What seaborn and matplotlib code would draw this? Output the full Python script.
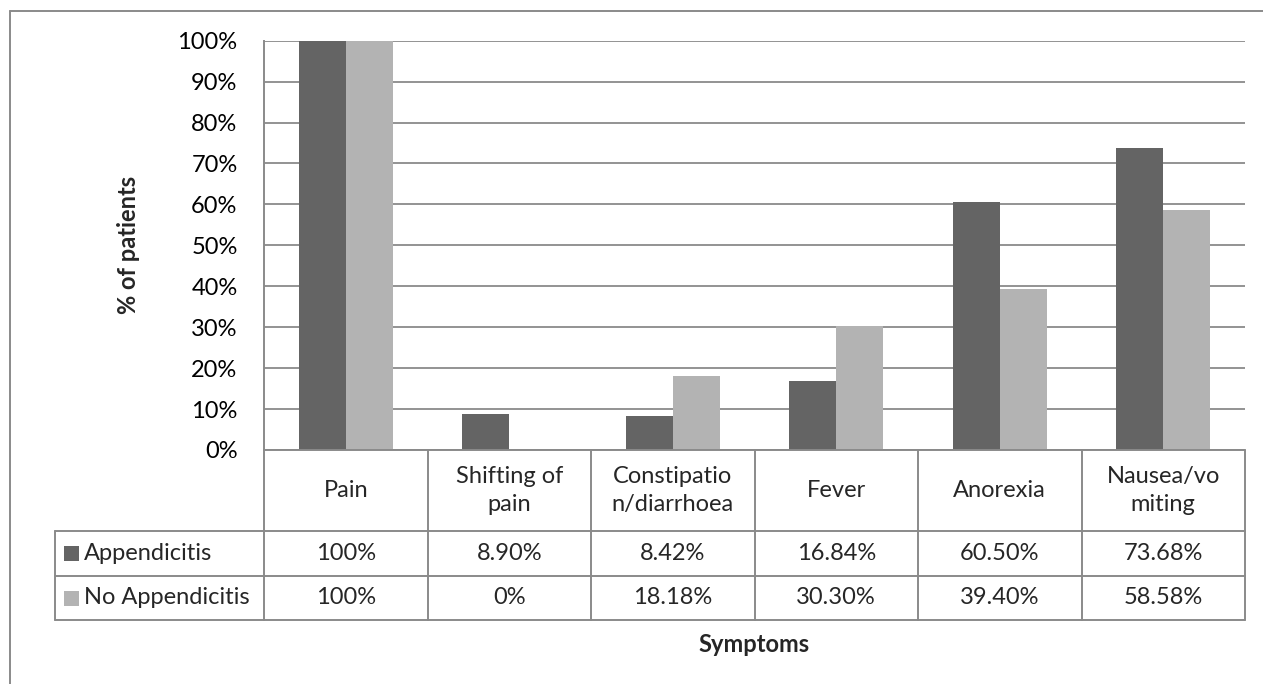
import matplotlib
matplotlib.use("Agg")
import matplotlib.pyplot as plt
from matplotlib.lines import Line2D
from matplotlib.patches import Rectangle
from matplotlib.ticker import FuncFormatter
import seaborn as sns
import pandas as pd

# ---------------- data ----------------
symptoms = ["Pain", "Shifting of pain", "Constipation/diarrhoea", "Fever", "Anorexia", "Nausea/vomiting"]
header_labels = ["Pain", "Shifting of\npain", "Constipatio\nn/diarrhoea", "Fever", "Anorexia", "Nausea/vo\nmiting"]
series_names = ["Appendicitis", "No Appendicitis"]
appendicitis = [100, 8.90, 8.42, 16.84, 60.50, 73.68]
no_appendicitis = [100, 0, 18.18, 30.30, 39.40, 58.58]
appendicitis_labels = ["100%", "8.90%", "8.42%", "16.84%", "60.50%", "73.68%"]
no_appendicitis_labels = ["100%", "0%", "18.18%", "30.30%", "39.40%", "58.58%"]
y_ticks = [0, 10, 20, 30, 40, 50, 60, 70, 80, 90, 100]

DARK = "#646464"
LIGHT = "#b3b3b3"
LINE = "#8a8a8a"

df = pd.DataFrame({
    "Symptom": symptoms * 2,
    "Group": [series_names[0]] * 6 + [series_names[1]] * 6,
    "Value": appendicitis + no_appendicitis,
})

W, H = 1263, 684
sns.set_theme(style="white")
plt.rcParams["font.family"] = ["Lato", "DejaVu Sans"]
FS = 17

fig = plt.figure(figsize=(W / 100, H / 100), dpi=100)
fig.patch.set_facecolor("white")

# plot area in pixels
PL, PR, PT, PB = 264, 1245, 40.7, 450
ax = fig.add_axes([PL / W, 1 - PB / H, (PR - PL) / W, (PB - PT) / H])

sns.barplot(data=df, x="Symptom", y="Value", hue="Group", order=symptoms,
            hue_order=series_names, palette=[DARK, LIGHT], width=0.575,
            saturation=1, legend=False, ax=ax, edgecolor="none", linewidth=0)

ax.set_ylim(0, 100)
ax.set_xlim(-0.5, len(symptoms) - 0.5)
ax.set_yticks(y_ticks)
ax.yaxis.set_major_formatter(FuncFormatter(lambda v, p: f"{v:.0f}%"))
ax.tick_params(axis="y", length=0, pad=19, labelsize=FS, labelcolor="black")
ax.set_xticks([])
ax.set_xlabel("")
ax.set_ylabel("")
ax.grid(axis="y", color=LINE, linewidth=1.3)
ax.set_axisbelow(True)
for s in ["top", "right", "bottom"]:
    ax.spines[s].set_visible(False)
ax.spines["left"].set_color(LINE)
ax.spines["left"].set_linewidth(1.4)

def fx(x):
    return x / W

def fy(y):
    return 1 - y / H

def hline(x0, x1, y):
    fig.add_artist(Line2D([fx(x0), fx(x1)], [fy(y), fy(y)], color=LINE, lw=1.4,
                          transform=fig.transFigure))

def vline(x, y0, y1):
    fig.add_artist(Line2D([fx(x), fx(x)], [fy(y0), fy(y1)], color=LINE, lw=1.4,
                          transform=fig.transFigure))

# outer chart frame
hline(9.5, W + 5, 11)
vline(9.5, 11, H + 5)

# data table
n = len(symptoms)
colw = (PR - PL) / n
TL = 55
R0, R1, R2, R3 = 450, 531, 576, 620
edges = [PL + i * colw for i in range(n + 1)]

hline(PL, PR, R0)
hline(TL, PR, R1)
hline(TL, PR, R2)
hline(TL, PR, R3)
for i, e in enumerate(edges):
    vline(e, R0, R3)
vline(TL, R1, R3)

for i in range(n):
    cx = (edges[i] + edges[i + 1]) / 2
    fig.text(fx(cx), fy((R0 + R1) / 2), header_labels[i], ha="center", va="center",
             fontsize=FS, linespacing=1.45)
    fig.text(fx(cx), fy((R1 + R2) / 2), appendicitis_labels[i], ha="center", va="center",
             fontsize=FS)
    fig.text(fx(cx), fy((R2 + R3) / 2), no_appendicitis_labels[i], ha="center", va="center",
             fontsize=FS)

for name, col, (ra, rb) in [(series_names[0], DARK, (R1, R2)), (series_names[1], LIGHT, (R2, R3))]:
    cy = (ra + rb) / 2
    fig.add_artist(Rectangle((fx(64), fy(cy + 7.5)), 15 / W, 15 / H, facecolor=col,
                             edgecolor="none", transform=fig.transFigure))
    fig.text(fx(84), fy(cy), name, ha="left", va="center", fontsize=FS)

# axis titles
fig.text(fx((PL + PR) / 2), fy(645), "Symptoms", ha="center", va="center",
         fontsize=FS, fontweight="bold")
fig.text(fx(128), fy((PT + PB) / 2), "% of patients", ha="center", va="center",
         rotation=90, fontsize=FS, fontweight="bold")

fig.savefig("out.png", dpi=100, facecolor="white")
